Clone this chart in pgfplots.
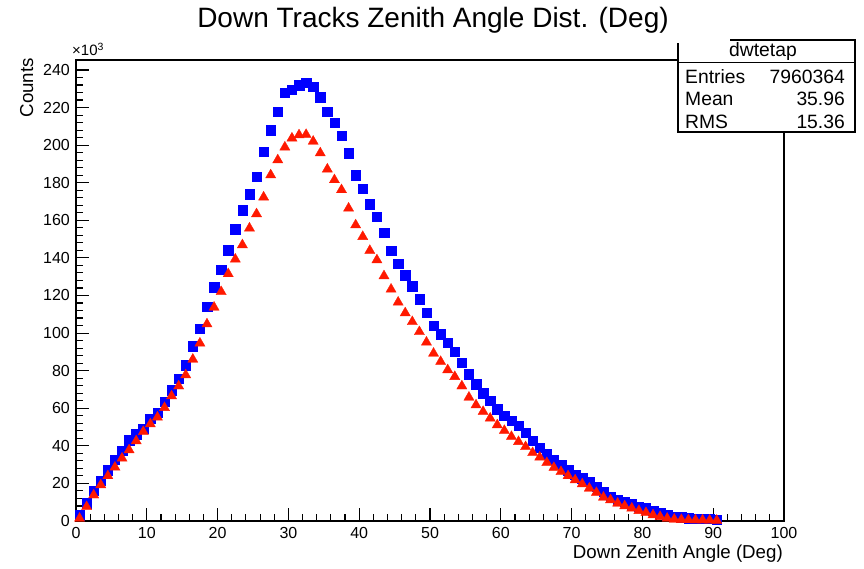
\documentclass[border=0pt]{standalone}
\usepackage{pgfplots}
\pgfplotsset{compat=1.18}
\usepackage{fontspec}
\setmainfont{Liberation Sans}
\definecolor{rootblue}{RGB}{0,0,255}
\definecolor{rootred}{RGB}{255,25,0}

\pgfplotstableread{
x y
0.5 3.2
1.5 9.4
2.5 16
3.5 21.5
4.5 27
5.5 32.5
6.5 37.4
7.5 43
8.5 46.3
9.5 49.3
10.5 54.6
11.5 57.6
12.5 63.5
13.5 69.7
14.5 75.9
15.5 83
16.5 93
17.5 102.5
18.5 114
19.5 124.4
20.5 133.6
21.5 144.2
22.5 155.2
23.5 165.5
24.5 174
25.5 183.2
26.5 196.5
27.5 208
28.5 217.8
29.5 228
30.5 229.4
31.5 232
32.5 233.3
33.5 231
34.5 225.5
35.5 217.8
36.5 212
37.5 205
38.5 195.7
39.5 184
40.5 177
41.5 168.7
42.5 162
43.5 153.4
44.5 143.7
45.5 136.8
46.5 130.9
47.5 125
48.5 118
49.5 110.9
50.5 104
51.5 99.4
52.5 94.8
53.5 90
54.5 84.3
55.5 78.2
56.5 72.8
57.5 68
58.5 64
59.5 59.6
60.5 56.2
61.5 53.3
62.5 50.6
63.5 47.1
64.5 42.9
65.5 39.1
66.5 35.6
67.5 32.8
68.5 30
69.5 27.1
70.5 24.7
71.5 22.9
72.5 20.9
73.5 18.3
74.5 15.6
75.5 12.9
76.5 11.5
77.5 10.3
78.5 9
79.5 7.6
80.5 6.8
81.5 5.5
82.5 4.1
83.5 3.2
84.5 2.3
85.5 2
86.5 1.5
87.5 1.3
88.5 1.2
89.5 1.1
90.5 0.6
}\bluedata

\pgfplotstableread{
x y
0.5 1.4
1.5 7.6
2.5 13.8
3.5 19.2
4.5 24
5.5 28.6
6.5 33.4
7.5 37.8
8.5 42.6
9.5 47.5
10.5 51.6
11.5 55.2
12.5 60.3
13.5 66.5
14.5 71.8
15.5 77.7
16.5 86
17.5 94.6
18.5 104.8
19.5 113.7
20.5 122
21.5 131.5
22.5 139.3
23.5 146.9
24.5 155.8
25.5 163.4
26.5 172.3
27.5 184.1
28.5 192.1
29.5 198.9
30.5 203.7
31.5 205.4
32.5 205.6
33.5 202
34.5 195.8
35.5 187.2
36.5 181.5
37.5 176.2
38.5 166.4
39.5 157.5
40.5 151.3
41.5 143.9
42.5 138.9
43.5 130.4
44.5 123.3
45.5 116.4
46.5 110.7
47.5 106
48.5 100.7
49.5 95.1
50.5 89.2
51.5 84.8
52.5 80.4
53.5 76.8
54.5 71.8
55.5 65.8
56.5 61.7
57.5 58.2
58.5 54.7
59.5 51.1
60.5 48.1
61.5 44.9
62.5 42.2
63.5 39.5
64.5 36.3
65.5 33.9
66.5 31
67.5 28.4
68.5 26.2
69.5 24
70.5 21.8
71.5 19.7
72.5 17.4
73.5 15.1
74.5 12.6
75.5 11.2
76.5 9.4
77.5 8
78.5 6.8
79.5 5.5
80.5 4.4
81.5 3.2
82.5 2.3
83.5 1.4
84.5 0.9
85.5 0.7
86.5 0.6
87.5 0.5
88.5 0.5
89.5 0.4
90.5 0.3
}\reddata

\begin{document}
\begin{tikzpicture}[x=1pt,y=1pt]
\useasboundingbox (0,0) rectangle (864,568);
\begin{axis}[
  at={(76pt,47pt)}, anchor=south west,
  scale only axis, width=708pt, height=461pt,
  xmin=0, xmax=100, ymin=0, ymax=245.3,
  axis line style={line width=1.2pt},
  xtick={0,10,...,100}, ytick={0,20,...,240},
  minor x tick num=4, minor y tick num=4,
  tick align=inside, tick pos=left,
  major tick length=13pt, minor tick length=7pt,
  every tick/.style={black, line width=1.1pt},
  tick label style={font=\fontsize{16}{19}\selectfont, inner sep=0pt},
  /pgf/number format/assume math mode=true,
  xticklabel style={yshift=-6pt},
  yticklabel style={xshift=-6pt},
  clip=false,
]
\addplot[only marks, mark=square*, mark size=4.7pt,
  mark options={fill=rootblue, draw=rootblue, line width=0.3pt}] table {\bluedata};
\addplot[only marks, mark=triangle*, mark size=5.9pt,
  mark options={fill=rootred, draw=rootred, line width=0.3pt}] table {\reddata};
\end{axis}

% title
\node[anchor=base, inner sep=0, font=\fontsize{28}{32}\selectfont] at (433,540) {Down Tracks Zenith Angle Dist. (Deg)};
% multiplier
\node[anchor=base west, inner sep=0, font=\fontsize{15}{18}\selectfont] at (72,512) {×10\textsuperscript{3}};
% axis labels
\node[rotate=90, anchor=base east, inner sep=0, font=\fontsize{18.7}{22}\selectfont] at (33,510) {Counts};
\node[anchor=base east, inner sep=0, font=\fontsize{18.7}{22}\selectfont] at (783,9.5) {Down Zenith Angle (Deg)};

% stats box
\fill[white] (678,436) rectangle (855,528);
\draw[line width=1.3pt] (730,528) -- (855,528) -- (855,436) -- (678,436) -- (678,525);
\draw[line width=1.3pt] (678,505.7) -- (855,505.7);
\begin{scope}[font=\fontsize{19.3}{23}\selectfont, inner sep=0]
\node[anchor=base] at (763,511.3) {dwtetap};
\node[anchor=base west] at (685,484.7) {Entries};
\node[anchor=base east] at (845,484.7) {7960364};
\node[anchor=base west] at (685,462) {Mean};
\node[anchor=base east] at (845,462) {35.96};
\node[anchor=base west] at (685,439.7) {RMS};
\node[anchor=base east] at (845,439.7) {15.36};
\end{scope}
\end{tikzpicture}
\end{document}
